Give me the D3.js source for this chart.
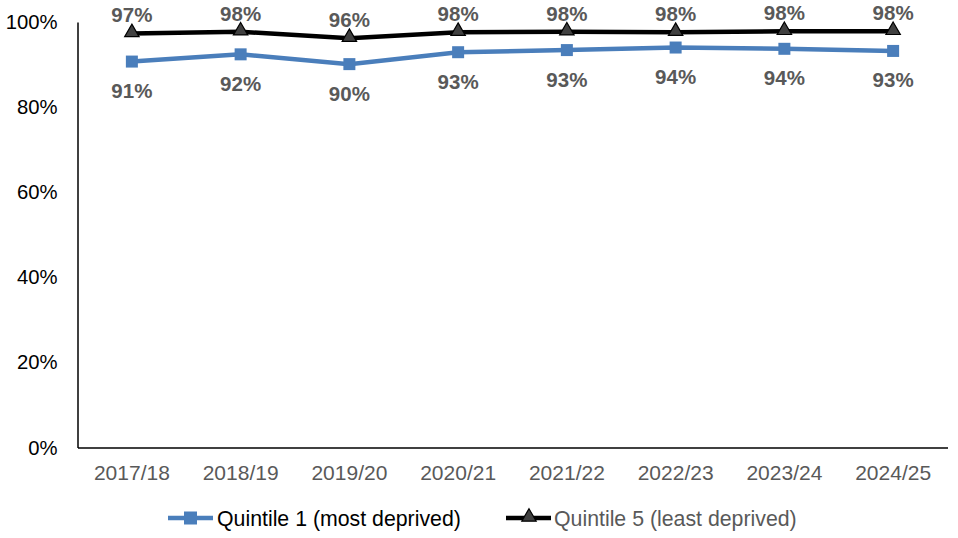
<!DOCTYPE html>
<html><head><meta charset="utf-8">
<script src="https://cdn.jsdelivr.net/npm/d3@7"></script>
<style>body{margin:0;background:#fff}svg{display:block;font-family:"Liberation Sans",Arial,sans-serif}</style>
</head><body><svg id="c" width="958" height="538"></svg>
<script>
const categories = ["2017/18","2018/19","2019/20","2020/21","2021/22","2022/23","2023/24","2024/25"];
const quintile1 = [0.907,0.924,0.901,0.929,0.934,0.940,0.937,0.932];
const quintile5 = [0.973,0.977,0.962,0.976,0.977,0.976,0.978,0.978];
const yTicks = [0,0.2,0.4,0.6,0.8,1.0];
const seriesNames = ["Quintile 1 (most deprived)","Quintile 5 (least deprived)"];

const svg = d3.select("#c");
const L=77.5, R=947.5, T=22, B=447.5;
const x = d3.scaleBand().domain(categories).range([L,R]).padding(0);
const y = d3.scaleLinear().domain([0,1]).range([B,T]);
const cx = d => x(d)+x.bandwidth()/2;

// y axis
const ya = svg.append("g").attr("transform",`translate(${L},0)`)
  .call(d3.axisLeft(y).tickValues(yTicks).tickFormat(d3.format(".0%")).tickSize(0).tickPadding(20));
ya.select(".domain").attr("stroke","#000").attr("stroke-width",1.5);
ya.selectAll("text").attr("font-size",20.3).attr("fill","#000").attr("font-family","Liberation Sans, Arial, sans-serif");

// x axis
const xa = svg.append("g").attr("transform",`translate(0,${B})`)
  .call(d3.axisBottom(x).tickSize(0).tickPadding(17.5));
xa.select(".domain").attr("stroke","#000").attr("stroke-width",1.5);
xa.selectAll("text").attr("font-size",21).attr("fill","#595959").attr("font-family","Liberation Sans, Arial, sans-serif");

const line = d3.line().x((d,i)=>cx(categories[i])).y(d=>y(d));

// Q5
svg.append("path").datum(quintile5).attr("d",line).attr("fill","none").attr("stroke","#000").attr("stroke-width",4.5);
const tri = d3.symbol().type(d3.symbolTriangle).size(90);
svg.selectAll(".t5").data(quintile5).join("path").attr("class","t5")
  .attr("d",tri).attr("transform",(d,i)=>`translate(${cx(categories[i])},${y(d)-1})`)
  .attr("fill","#404040").attr("stroke","#000").attr("stroke-width",1.2);
svg.selectAll(".l5").data(quintile5).join("text").attr("class","l5")
  .attr("x",(d,i)=>cx(categories[i])).attr("y",d=>y(d)-11)
  .attr("text-anchor","middle").attr("font-size",20.5).attr("font-weight","bold").attr("fill","#595959")
  .text(d=>d3.format(".0%")(d));

// Q1
svg.append("path").datum(quintile1).attr("d",line).attr("fill","none").attr("stroke","#4a7ebb").attr("stroke-width",4.5);
svg.selectAll(".s1").data(quintile1).join("rect").attr("class","s1")
  .attr("x",(d,i)=>cx(categories[i])-6).attr("y",d=>y(d)-6).attr("width",12).attr("height",12)
  .attr("fill","#4a7ebb");
svg.selectAll(".l1").data(quintile1).join("text").attr("class","l1")
  .attr("x",(d,i)=>cx(categories[i])).attr("y",d=>y(d)+36.5)
  .attr("text-anchor","middle").attr("font-size",20.5).attr("font-weight","bold").attr("fill","#595959")
  .text(d=>d3.format(".0%")(d));

// legend
const ly = 518;
const lg = svg.append("g");
lg.append("line").attr("x1",168).attr("x2",213).attr("y1",ly).attr("y2",ly).attr("stroke","#4a7ebb").attr("stroke-width",4.5);
lg.append("rect").attr("x",184).attr("y",ly-6.5).attr("width",13).attr("height",13).attr("fill","#4a7ebb");
lg.append("text").attr("x",217).attr("y",ly+7.5).attr("font-size",21.3).attr("fill","#000").text(seriesNames[0]);
lg.append("line").attr("x1",506).attr("x2",551).attr("y1",ly).attr("y2",ly).attr("stroke","#000").attr("stroke-width",4.5);
lg.append("path").attr("d",tri).attr("transform",`translate(529,${ly-1})`).attr("fill","#404040").attr("stroke","#000").attr("stroke-width",1.2);
lg.append("text").attr("x",554).attr("y",ly+7.5).attr("font-size",21.3).attr("fill","#595959").text(seriesNames[1]);
</script></body></html>
